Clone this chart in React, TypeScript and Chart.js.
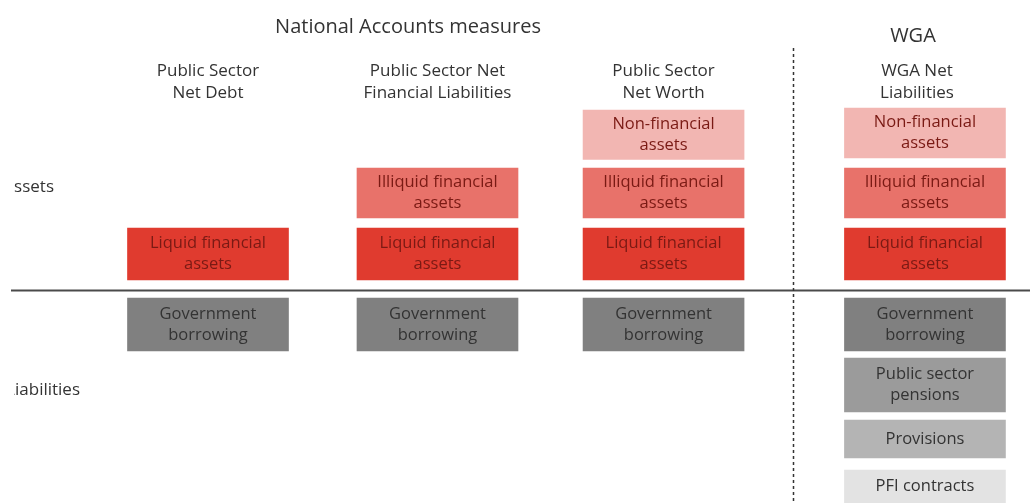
import React, { useEffect, useRef } from "react";
import { Chart, registerables } from "chart.js";

Chart.register(...registerables);

// ---- Data ----
const groupTitles = ["National Accounts measures", "WGA"];
const columnTitles = [
  ["Public Sector", "Net Debt"],
  ["Public Sector Net", "Financial Liabilities"],
  ["Public Sector", "Net Worth"],
  ["WGA Net", "Liabilities"],
];
const columnPositions = [1, 2, 2.985, 4.124];
const dividerPosition = 3.549;
const sideLabels = ["Assets", "Liabilities"];
const sideLabelLevels = [10.25, -10.05];

const seriesNames = [
  "Non-financial assets",
  "Illiquid financial assets",
  "Liquid financial assets",
  "Government borrowing",
  "Public sector pensions",
  "Provisions",
  "PFI contracts",
];
const blockLabels = [
  ["Non-financial", "assets"],
  ["Illiquid financial", "assets"],
  ["Liquid financial", "assets"],
  ["Government", "borrowing"],
  ["Public sector", "pensions"],
  ["Provisions"],
  ["PFI contracts"],
];
const nonFinancialAssets = [null, null, [13.0, 17.95], [13.15, 18.15]];
const illiquidFinancialAssets = [null, [7.15, 12.15], [7.15, 12.15], [7.15, 12.15]];
const liquidFinancialAssets = [[0.95, 6.15], [0.95, 6.15], [0.95, 6.15], [0.95, 6.15]];
const governmentBorrowing = [[-0.85, -6.15], [-0.85, -6.15], [-0.85, -6.15], [-0.85, -6.15]];
const publicSectorPensions = [null, null, null, [-6.85, -12.25]];
const provisions = [null, null, null, [-13.05, -16.85]];
const pfiContracts = [null, null, null, [-18.05, -21.8]];

const seriesValues = [
  nonFinancialAssets,
  illiquidFinancialAssets,
  liquidFinancialAssets,
  governmentBorrowing,
  publicSectorPensions,
  provisions,
  pfiContracts,
];
const seriesColors = ["#f2b6b2", "#e8726a", "#e03b2f", "#808080", "#9b9b9b", "#b4b4b4", "#e3e3e3"];
const labelColors = ["#7a1a14", "#7a1a14", "#7a1a14", "#333333", "#333333", "#333333", "#333333"];

const FONT = "'Open Sans', 'Noto Sans', sans-serif";

const overlayPlugin = {
  id: "diagramOverlay",
  beforeDatasetsDraw(chart: any) {
    const { ctx, scales } = chart;
    const xs = scales.x;
    const ys = scales.y;
    ctx.save();
    const y0 = Math.round(ys.getPixelForValue(0)) + 0.5;
    ctx.strokeStyle = "#4a4a4a";
    ctx.lineWidth = 2;
    ctx.beginPath();
    ctx.moveTo(11, y0);
    ctx.lineTo(chart.width, y0);
    ctx.stroke();
    const xd = Math.round(xs.getPixelForValue(dividerPosition)) + 0.5;
    ctx.strokeStyle = "#333333";
    ctx.lineWidth = 1.5;
    ctx.setLineDash([3, 3]);
    ctx.beginPath();
    ctx.moveTo(xd, 48);
    ctx.lineTo(xd, chart.height);
    ctx.stroke();
    ctx.restore();
  },
  afterDatasetsDraw(chart: any) {
    const { ctx, scales } = chart;
    const xs = scales.x;
    const ys = scales.y;
    ctx.save();
    ctx.textAlign = "center";
    ctx.textBaseline = "middle";
    ctx.fillStyle = "#333333";
    ctx.font = `20px ${FONT}`;
    ctx.fillText(groupTitles[0], 408, 27);
    ctx.fillText(groupTitles[1], xs.getPixelForValue(columnPositions[3]) - 12, 36);
    ctx.font = `17px ${FONT}`;
    columnTitles.forEach((lines, i) => {
      const cx = xs.getPixelForValue(columnPositions[i]) - (i === 3 ? 8 : 0);
      lines.forEach((t, j) => ctx.fillText(t, cx, 71 + j * 22));
    });
    ctx.font = `16.5px ${FONT}`;
    chart.data.datasets.forEach((ds: any, di: number) => {
      const meta = chart.getDatasetMeta(di);
      meta.data.forEach((el: any, k: number) => {
        if (!ds.data[k] || ds.data[k].y == null) return;
        const top = Math.max(Math.min(el.y, el.base), 0);
        const bottom = Math.min(Math.max(el.y, el.base), chart.height);
        const cy = (top + bottom) / 2;
        const lines = blockLabels[di];
        ctx.fillStyle = labelColors[di];
        const lh = 21;
        lines.forEach((t: string, j: number) => {
          ctx.fillText(t, el.x, cy + (j - (lines.length - 1) / 2) * lh);
        });
      });
    });
    ctx.beginPath();
    ctx.rect(14, 0, chart.width, chart.height);
    ctx.clip();
    ctx.textAlign = "right";
    ctx.fillStyle = "#333333";
    ctx.font = `17px ${FONT}`;
    ctx.fillText(sideLabels[0], 54, ys.getPixelForValue(sideLabelLevels[0]));
    ctx.fillText(sideLabels[1], 80, ys.getPixelForValue(sideLabelLevels[1]));
    ctx.restore();
  },
};

export default function App() {
  const ref = useRef<HTMLCanvasElement | null>(null);
  useEffect(() => {
    if (!ref.current) return;
    const datasets = seriesNames.map((name, i) => ({
      label: name,
      data: seriesValues[i]
        .map((v, k) => (v ? { x: columnPositions[k], y: v } : null))
        .filter((d) => d !== null),
      backgroundColor: seriesColors[i],
      borderWidth: 0,
      barThickness: 161,
      grouped: false,
    }));
    const chart = new Chart(ref.current, {
      type: "bar",
      data: { datasets: datasets as any },
      options: {
        animation: false,
        responsive: true,
        maintainAspectRatio: false,
        layout: { padding: 0 },
        plugins: { legend: { display: false }, tooltip: { enabled: false } },
        scales: {
          x: { type: "linear", min: 0.0937, max: 4.5817, offset: false, display: false },
          y: { type: "linear", min: -21.35, max: 28.95, display: false },
        },
      },
      plugins: [overlayPlugin],
    });
    return () => chart.destroy();
  }, []);
  return (
    <div style={{ position: "fixed", left: 0, top: 0, width: 1030, height: 503, background: "#ffffff" }}>
      <canvas ref={ref} />
    </div>
  );
}
